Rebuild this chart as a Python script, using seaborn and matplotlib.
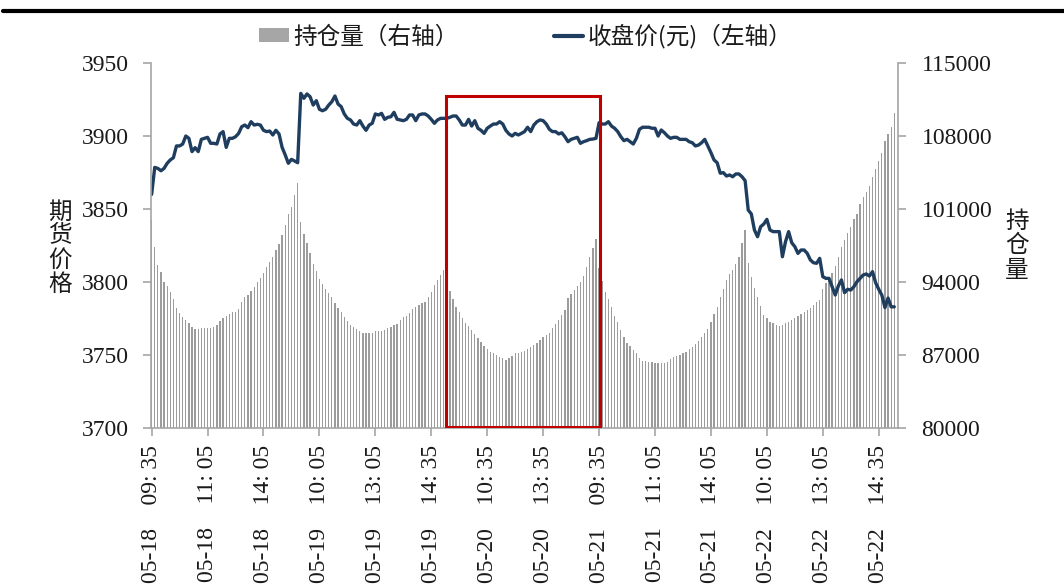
import numpy as np
import pandas as pd
import matplotlib
matplotlib.use("Agg")
import matplotlib.pyplot as plt
import seaborn as sns
from matplotlib.patches import Rectangle, Patch
from matplotlib.lines import Line2D

# ---------------- data ----------------
# 5-minute bars, 48 per trading day, 05-18 .. 05-22
open_interest = [
    # 05-18
    99950, 97390, 95630, 94930, 93970, 93620, 93010, 92370, 91480, 91000,
    90680, 90360, 90100, 89720, 89460, 89460, 89620, 89620, 89560, 89560,
    89720, 89880, 90260, 90520, 90740, 90930, 91090, 91150, 91380, 92110,
    92590, 92750, 93170, 93550, 94030, 94350, 94830, 95410, 95950, 96430,
    97070, 97640, 98510, 99470, 100490, 101220, 102340, 103460,
    # 05-19
    99720, 98600, 97710, 96750, 95730, 95090, 94290, 93780, 93360, 92920,
    92530, 91960, 91480, 91090, 90680, 90290, 89880, 89660, 89460, 89330,
    89140, 89140, 89140, 89140, 89330, 89330, 89330, 89400, 89560, 89720,
    89880, 89970, 90360, 90680, 90740, 91060, 91380, 91570, 91800, 91960,
    92110, 92530, 93070, 93710, 94190, 94670, 95150, 96430,
    # 05-20
    93170, 92340, 91640, 91090, 90520, 90040, 89810, 89400, 89010, 88660,
    88280, 87860, 87550, 87320, 87160, 87000, 86840, 86680, 86520, 86680,
    86940, 87160, 87220, 87300, 87410, 87540, 87740, 87960, 88120, 88440,
    88760, 88920, 89140, 89560, 89940, 90360, 90840, 91320, 92430, 92820,
    93230, 93620, 94030, 94580, 95470, 96370, 97230, 98120,
    # 05-21
    95300, 94130, 93010, 92340, 91640, 90740, 90140, 89400, 88760, 88120,
    87860, 87480, 87160, 86740, 86460, 86430, 86360, 86360, 86260, 86200,
    86200, 86260, 86360, 86580, 86840, 86940, 87000, 87160, 87320, 87580,
    87800, 88020, 88370, 88760, 89080, 89460, 90190, 90930, 91640, 92590,
    93300, 94190, 94730, 95150, 95730, 96430, 97770, 98990,
    # 05-22
    95850, 94510, 93400, 92590, 91700, 90840, 90520, 90190, 90100, 89880,
    89780, 89880, 90040, 90190, 90360, 90520, 90740, 90930, 91090, 91320,
    91480, 91800, 92050, 92270, 93300, 93870, 94350, 94830, 95530, 96430,
    97390, 98030, 98670, 99310, 100010, 100520, 101480, 102120, 102660, 103210,
    104040, 104800, 105630, 106340, 107550, 108190, 108890, 110170,
]

close_price = [
    # 05-18
    3860.0, 3878.5, 3877.8, 3876.2, 3877.8, 3881.3, 3883.6, 3885.1, 3893.2, 3893.2,
    3894.5, 3900.0, 3898.4, 3889.3, 3892.0, 3889.3, 3897.7, 3898.4, 3899.1, 3895.0,
    3895.0, 3894.5, 3901.4, 3903.0, 3892.2, 3898.4, 3898.4, 3899.5, 3901.8, 3906.4,
    3907.5, 3905.7, 3909.8, 3907.5, 3908.0, 3907.5, 3903.9, 3903.0, 3903.4, 3900.7,
    3903.9, 3901.4, 3892.2, 3887.0, 3881.3, 3884.0, 3882.9, 3881.7,
    # 05-19
    3929.2, 3925.8, 3928.8, 3926.9, 3921.2, 3924.2, 3918.3, 3917.3, 3918.3, 3921.2,
    3923.5, 3927.4, 3921.9, 3920.1, 3915.1, 3912.1, 3911.0, 3908.2, 3907.5, 3910.5,
    3906.8, 3903.9, 3907.5, 3908.7, 3915.1, 3914.4, 3915.5, 3911.4, 3912.8, 3913.2,
    3916.2, 3911.5, 3911.0, 3910.5, 3911.4, 3914.4, 3914.4, 3910.5, 3914.4, 3915.1,
    3915.1, 3913.7, 3911.4, 3908.7, 3911.0, 3912.1, 3912.1, 3912.1,
    # 05-20
    3912.8, 3913.7, 3913.7, 3911.0, 3907.5, 3907.5, 3911.4, 3906.8, 3910.5, 3905.3,
    3903.9, 3901.8, 3905.3, 3906.8, 3908.2, 3908.2, 3909.8, 3908.2, 3903.9, 3901.4,
    3900.0, 3901.8, 3900.7, 3901.8, 3903.0, 3906.0, 3903.0, 3907.5, 3909.8, 3911.0,
    3910.5, 3908.2, 3904.6, 3903.0, 3903.0, 3901.4, 3902.2, 3899.5, 3896.1, 3897.7,
    3898.4, 3899.1, 3895.0, 3896.1, 3896.8, 3897.7, 3897.9, 3898.4,
    # 05-21
    3909.1, 3908.2, 3908.2, 3909.8, 3906.8, 3905.3, 3903.0, 3899.5, 3896.8, 3897.7,
    3896.1, 3894.5, 3898.4, 3904.6, 3906.0, 3906.0, 3906.0, 3905.3, 3905.3, 3900.0,
    3904.1, 3902.3, 3900.0, 3898.4, 3899.1, 3899.1, 3897.7, 3897.7, 3897.7, 3896.1,
    3895.4, 3893.2, 3893.8, 3895.4, 3897.7, 3893.2, 3888.6, 3883.6, 3881.7, 3874.5,
    3874.9, 3872.6, 3873.3, 3872.1, 3874.0, 3874.0, 3872.1, 3869.4,
    # 05-22
    3849.3, 3846.6, 3835.6, 3831.0, 3837.9, 3839.7, 3842.9, 3835.6, 3834.5, 3834.5,
    3834.5, 3817.3, 3827.6, 3834.5, 3826.9, 3824.2, 3819.6, 3821.9, 3821.9, 3819.6,
    3815.1, 3813.2, 3812.8, 3816.2, 3803.6, 3802.5, 3802.5, 3796.8, 3791.1, 3797.3,
    3801.4, 3792.7, 3795.0, 3794.5, 3796.8, 3800.2, 3802.5, 3804.8, 3805.5, 3804.1,
    3807.1, 3799.5, 3795.0, 3791.0, 3782.5, 3789.0, 3783.0, 3783.0,
]

tick_labels = [
    "05-18    09: 35", "05-18    11: 05", "05-18    14: 05",
    "05-19    10: 05", "05-19    13: 05", "05-19    14: 35",
    "05-20    10: 35", "05-20    13: 35", "05-21    09: 35",
    "05-21    11: 05", "05-21    14: 05", "05-22    10: 05",
    "05-22    13: 05", "05-22    14: 35",
]
left_ticks = [3700, 3750, 3800, 3850, 3900, 3950]
right_ticks = [80000, 87000, 94000, 101000, 108000, 115000]
legend_labels = ["持仓量（右轴）", "收盘价(元)（左轴）"]
left_label = "期货价格"
right_label = "持仓量"
# highlighted window (05-20 session)
box_x = (94.6, 144.3)
box_y = (3700.8, 3927.4)

bar_idx = np.arange(len(open_interest))
df = pd.DataFrame({"bar": bar_idx, "oi": open_interest, "close": close_price})

# ---------------- style ----------------
sns.set_theme(style="white")
SERIF = ["Liberation Serif", "Noto Sans CJK SC", "DejaVu Sans"]
CJK = ["Noto Sans CJK SC", "DejaVu Sans"]
plt.rcParams["font.family"] = SERIF

LINE_C = "#1f3d5e"
BAR_C = "#9c9c9c"
AXIS_C = "#a6a6a6"
TXT_C = "#1a1a1a"

fig = plt.figure(figsize=(10.64, 5.88), dpi=100)
ax = fig.add_axes([151 / 1064, 1 - 428 / 588, (898 - 151) / 1064, (428 - 63) / 588])
ax2 = ax.twinx()

sns.barplot(data=df, x="bar", y="oi", ax=ax2, native_scale=True, width=0.42,
            color=BAR_C, saturation=1, errorbar=None, linewidth=0)
sns.lineplot(data=df, x="bar", y="close", ax=ax, color=LINE_C, linewidth=2.4)

ax.set_zorder(ax2.get_zorder() + 1)
ax.patch.set_visible(False)

ax.add_patch(Rectangle((box_x[0], box_y[0]), box_x[1] - box_x[0], box_y[1] - box_y[0],
                       fill=False, edgecolor="#c00000", linewidth=2.2, zorder=3))

ax.set_xlim(-0.2, 240.2)
ax.set_ylim(3700, 3950)
ax2.set_ylim(80000, 115000)
ax.set_yticks(left_ticks)
ax.set_yticklabels([str(v) for v in left_ticks])
ax2.set_yticks(right_ticks)
ax2.set_yticklabels([str(v) for v in right_ticks])
ax.set_xticks(np.arange(0, 240, 18))
ax.set_xticklabels(tick_labels, rotation=90, ha="center", va="top")
ax.set_xlabel("")
ax.set_ylabel("")
ax2.set_xlabel("")
ax2.set_ylabel("")

for a in (ax, ax2):
    for s in a.spines.values():
        s.set_color(AXIS_C)
        s.set_linewidth(1.2)
    a.spines["top"].set_visible(False)
ax.spines["right"].set_visible(False)
ax2.spines["left"].set_visible(False)
ax2.spines["bottom"].set_visible(False)

ax.tick_params(axis="y", direction="out", length=6, width=1.2, color=AXIS_C,
               pad=10, labelsize=17, labelcolor=TXT_C, left=True)
ax2.tick_params(axis="y", direction="out", length=6, width=1.2, color=AXIS_C,
                pad=11, labelsize=17, labelcolor=TXT_C, right=True)
ax.tick_params(axis="x", direction="out", length=6, width=1.2, color=AXIS_C,
               pad=6, labelsize=17, labelcolor=TXT_C, bottom=True)

fig.text(60 / 1064, 1 - 248 / 588, "\n".join(left_label), ha="center", va="center",
         fontsize=17, family=CJK, color=TXT_C, linespacing=1.06)
fig.text(1017 / 1064, 1 - 246 / 588, "\n".join(right_label), ha="center", va="center",
         fontsize=17, family=CJK, color=TXT_C, linespacing=1.06)

handles = [Patch(facecolor="#a6a6a6", edgecolor="none"),
           Line2D([], [], color=LINE_C, linewidth=3)]
fig.legend(handles, legend_labels, loc="center", bbox_to_anchor=(526 / 1064, 1 - 36 / 588),
           ncol=2, frameon=False, prop={"family": CJK, "size": 17},
           handlelength=1.25, handleheight=0.55, handletextpad=0.2, columnspacing=4.0,
           labelcolor=TXT_C)

fig.add_artist(Line2D([0.003, 1.0], [1 - 11 / 588] * 2, transform=fig.transFigure,
                      color="black", linewidth=3))

fig.savefig("out.png", dpi=100)
